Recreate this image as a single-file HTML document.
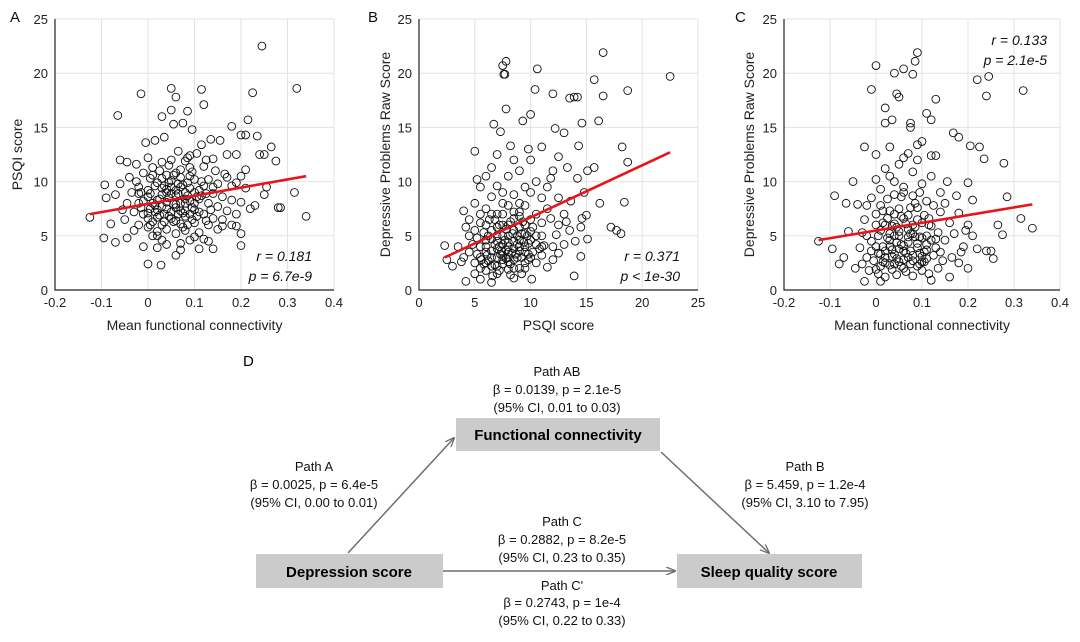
<!DOCTYPE html>
<html><head><meta charset="utf-8">
<style>
html,body{margin:0;padding:0;background:#fff;}
body{width:1080px;height:637px;overflow:hidden;font-family:"Liberation Sans",Arial,sans-serif;}
svg text{font-family:"Liberation Sans",Arial,sans-serif;}
</style></head>
<body>
<svg id="fig" width="1080" height="637" viewBox="0 0 1080 637">
<g id="charts"></g>
<g id="diagram">
  <text x="243" y="366" font-size="15">D</text>
  <g font-size="13" text-anchor="middle" fill="#111">
    <text x="557" y="376">Path AB</text>
    <text x="557" y="394">β = 0.0139, p = 2.1e-5</text>
    <text x="557" y="412">(95% CI, 0.01 to 0.03)</text>
    <text x="314" y="471">Path A</text>
    <text x="314" y="489">β = 0.0025, p = 6.4e-5</text>
    <text x="314" y="507">(95% CI, 0.00 to 0.01)</text>
    <text x="805" y="471">Path B</text>
    <text x="805" y="489">β = 5.459, p = 1.2e-4</text>
    <text x="805" y="507">(95% CI, 3.10 to 7.95)</text>
    <text x="562" y="526">Path C</text>
    <text x="562" y="544">β = 0.2882, p = 8.2e-5</text>
    <text x="562" y="562">(95% CI, 0.23 to 0.35)</text>
    <text x="562" y="590">Path C'</text>
    <text x="562" y="607">β = 0.2743, p = 1e-4</text>
    <text x="562" y="625">(95% CI, 0.22 to 0.33)</text>
  </g>
  <defs><marker id="ah" markerWidth="10" markerHeight="8" refX="9" refY="4" orient="auto" markerUnits="userSpaceOnUse"><path d="M0,0 L10,4 L0,8" fill="none" stroke="#6e6e6e" stroke-width="1.3"/></marker></defs>
  <line x1="348" y1="553" x2="454" y2="438" stroke="#6e6e6e" stroke-width="1.5" marker-end="url(#ah)"/>
  <line x1="661" y1="452" x2="769" y2="553" stroke="#6e6e6e" stroke-width="1.5" marker-end="url(#ah)"/>
  <line x1="443" y1="571" x2="675" y2="571" stroke="#6e6e6e" stroke-width="1.5" marker-end="url(#ah)"/>
  <rect x="456" y="418" width="204" height="33" fill="#cbcbcb"/>
  <text x="558" y="440" font-size="15" font-weight="bold" text-anchor="middle">Functional connectivity</text>
  <rect x="256" y="554" width="187" height="34" fill="#cbcbcb"/>
  <text x="349" y="577" font-size="15" font-weight="bold" text-anchor="middle">Depression score</text>
  <rect x="677" y="554" width="185" height="34" fill="#cbcbcb"/>
  <text x="769" y="577" font-size="15" font-weight="bold" text-anchor="middle">Sleep quality score</text>
</g>
</svg>
<script>
// Panel A data: mean functional connectivity vs PSQI score
const ptsA = "-0.125,6.7 -0.095,4.8 -0.093,9.7 -0.09,8.5 -0.065,16.1 -0.015,18.1 0.05,18.6 0.115,18.5 0.12,17.1 0.06,17.8 0.245,22.5 0.225,18.2 0.32,18.6 0.34,6.8 0.315,9.0 0.28,7.6 0.285,7.6 0.275,11.9 0.265,13.2 0.25,12.5 0.24,12.5 0.235,14.2 0.215,15.7 0.2,14.3 0.21,14.3 0.18,15.1 0.2,4.1 0.14,3.8 0.11,3.8 0,2.4 0.028,2.3 0.06,3.2 -0.07,4.4 -0.045,4.8 -0.08,6.1 -0.06,12.0 -0.045,11.8 0.085,16.5 0.05,16.6 0.03,16.0 0.255,9.5 0.25,8.8 0.22,7.5 0.23,7.8 0.18,6.0 0.19,5.9 0.2,5.2 0.16,6.5 0.17,12.5 0.19,12.5 -0.02,9.5 -0.01,8.2 0,7.1 0.01,6.3 0.02,9.9 0.03,8.8 0.04,7.5 0.05,6.6 0.06,9.2 0.07,8.0 0.08,7.3 0.09,10.5 0.1,9.0 0.11,8.4 0.12,7.0 0.13,10.2 0.14,8.9 0.15,7.7 -0.03,7.2 -0.02,6.0 -0.01,10.8 0,12.2 0.01,11.3 0.02,5.4 0.03,4.6 0.04,10.6 0.05,12.0 0.06,5.2 0.07,4.3 0.08,11.9 0.09,12.4 0.1,6.2 0.11,5.3 0.12,11.4 0.13,6.0 0.14,12.1 0.15,9.8 0.16,8.6 0.17,10.4 0.18,8.3 0.19,9.9 0.2,8.1 0.21,9.4 0.005,8.9 0.015,7.8 0.025,6.9 0.035,9.6 0.045,8.5 0.055,7.9 0.065,7.0 0.075,9.7 0.085,8.7 0.095,7.6 0.105,6.8 0.115,10.0 0.125,8.9 0.135,7.4 -0.005,13.6 0.015,13.8 0.035,14.1 0.055,15.3 0.075,15.4 0.095,14.8 0.115,13.4 0.135,13.9 0.155,13.8 -0.025,11.6 -0.035,9.0 -0.045,8.0 -0.05,6.5 -0.03,5.5 -0.01,4.0 0.02,3.9 0.04,4.2 0.07,3.7 0.09,4.6 0.12,4.7 0.13,4.5 0.15,5.6 0.17,7.3 0.19,7.0 0.2,10.5 0.21,11.1 0.005,10.3 0.025,11.0 0.045,11.5 0.065,12.8 0.085,12.2 0.105,12.6 0.125,12.0 0.145,11.0 0.165,10.7 0.06,7.6 0.07,6.1 0.03,6.0 0.01,5.0 0.08,5.5 0.1,4.9 -0.015,7.6 0.05,10.1 0.09,9.4 0.11,7.2 0.14,6.6 0.16,5.9 0.18,9.6 -0.07,8.8 -0.06,9.8 -0.04,10.4 -0.055,7.4 0.0,8.6 0.04,9.0 0.08,8.4 0.1,10.2 0.02,7.4 0.06,10.8 0.12,9.6 -0.02,8.9 0.03,10.3 0.07,11.1 0.0,9.2 0.01,8.0 0.02,6.7 0.03,9.4 0.04,8.1 0.05,7.2 0.06,8.7 0.07,9.5 0.08,6.8 0.09,8.2 0.1,7.4 0.005,6.0 0.015,9.6 0.025,8.4 0.035,7.0 0.045,9.9 0.055,6.3 0.065,8.9 0.075,7.1 0.085,9.9 0.095,6.5 0.0,5.8 0.02,5.0 0.04,5.6 0.06,6.4 0.08,9.0 0.1,8.0 -0.01,7.0 -0.02,8.0 0.03,7.7 0.05,8.9 0.07,7.3 0.09,7.0 0.11,9.2 0.01,10.6 0.03,11.8 0.05,9.5 0.07,10.4 0.09,11.3 0.015,7.2 0.035,6.3 0.055,10.6 0.075,5.8 0.095,10.9 0.115,8.7 0.125,6.4 -0.025,10.0 -0.015,9.0 0.005,7.5 0.045,6.8 0.065,9.8 0.085,6.0 0.105,8.6 0.13,8.0 0.14,9.5 0.02,8.3 0.06,7.9 0.04,9.3 0.08,8.0 0.0,6.6";
const fitA = [[-0.125, 7.0], [0.34, 10.5]];
// Panel B data: PSQI vs depressive problems
const ptsB = "2.3,4.1 2.5,2.8 3,2.2 4.2,0.8 5,12.8 7.5,20.7 7.6,19.9 7.7,19.9 7.8,21.1 7.8,16.7 10.6,20.4 10.4,18.5 12,18.1 13.5,17.7 13.9,17.8 14.2,17.8 15.7,19.4 16.5,21.9 16.5,17.9 18.7,18.4 22.5,19.7 16.1,15.6 14.6,15.4 18.2,13.2 18.7,11.8 18.4,8.1 17.7,5.5 18.1,5.2 17.2,5.8 16.2,8.0 15.7,11.3 15.1,11.0 14.3,13.3 13,14.5 12.2,14.9 10,16.2 9.3,15.6 6.7,15.3 7.3,14.6 13.9,1.3 14.5,3.1 15.1,4.7 15,6.9 14.6,6.6 10.1,1.0 8.5,1.1 6.5,0.7 5.5,1.0 13.3,11.3 12.5,12.3 11.8,10.3 14.8,9.0 14.2,10.3 4,3 4.5,5 5,2.5 5.5,4 6,6 6.5,3 7,5 7.5,7 8,3.5 8.5,5.5 9,8 9.5,4 10,6.5 10.5,2.5 11,5 11.5,7.5 12,4 12.5,6 4.5,6.5 5,8 5.5,9.5 6,10.5 6.5,11.3 7,12.5 7.5,9 8,10.5 8.5,12 9,11 9.5,9.5 10,12 10.5,10 11,8.5 11.5,9.5 12,11 12.5,8.5 13,7 13.5,5.5 14,4.5 5,1.5 5.5,2 6,1.8 6.5,2.2 7,1.5 7.5,2.4 8,1.9 8.5,2.8 9,2 9.5,2.5 10,3 10.5,4.2 11,3.2 11.5,2.1 12,2.8 12.5,3.4 13,4.2 6,3.5 6.5,4.7 7,3 7.5,4.2 8,5 8.5,3.8 9,4.6 9.5,6 10,4.6 10.5,7 11,6.2 6,7.5 6.5,8.6 7,9.6 7.5,6 8,7.8 8.5,8.8 9,6.8 9.5,7.8 10,9 3.5,4 3.8,2.6 4.2,5.8 4.8,4.2 5.2,3.3 5.8,5.3 6.2,2.7 6.8,6.5 7.2,4 7.8,2.9 8.2,6.3 8.8,3 9.2,5.2 9.8,3.3 10.2,5.8 10.8,3.8 11.2,4.1 11.8,6.6 12.3,5.1 13.2,6.3 13.6,8.2 14.5,5.8 4,7.3 5.2,10.2 8.2,13.3 9.8,13 11,13.2 7,7 8,4.4 9,3.6 6,4.6 7.5,3.2 8.5,6.6 5.5,6.2 9.5,5.2 7,2.2 8,2.6 5.5,3 6,4 6.5,5.5 7,3.8 7.5,5 8,3 8.5,4.5 9,5.8 9.5,3.5 10,5.4 6,2.5 6.5,3.6 7,4.5 7.5,2.8 8,4 8.5,2 9,4 9.5,2 6.2,5 6.8,2.3 7.2,6 7.8,3.7 8.2,2.4 8.8,5 9.2,3 9.8,4.3 5.2,4.8 5.8,2.4 6.3,6.5 6.8,4.2 7.3,3.3 7.8,5.6 8.3,3.4 8.8,4.2 9.3,6.3 9.8,2.8 7,5.8 8,6 9,7.2 7.5,8 8.5,7.2 6.5,7 5,5.5 5.5,7 4.5,3.5 10.5,5 11,4 10.2,3.5 7.2,1.8 8.2,1.4 9.2,1.5 6.6,1.3 5.6,2.8 7.7,4.6 8.7,3.3 9.7,5 6.1,3.2 7.4,3.6 8.4,5.2 9.4,4.4";
const fitB = [[2.3, 3.0], [22.5, 12.7]];
// Panel C data: mean functional connectivity vs depressive problems
const ptsC = "-0.125,4.5 -0.09,8.7 -0.095,3.8 -0.01,18.5 0,20.7 0.04,20.0 0.06,20.4 0.085,21.1 0.09,21.9 0.08,19.9 0.045,18.1 0.05,17.8 0.13,17.6 0.22,19.4 0.245,19.7 0.24,17.9 0.32,18.4 0.34,5.7 0.315,6.6 0.278,11.7 0.285,8.6 0.275,5.1 0.255,2.9 0.25,3.6 0.24,3.6 0.265,6.0 0.225,13.2 0.205,13.3 0.235,12.1 0.18,14.1 0.168,14.5 0.11,16.3 0.12,15.7 0.02,16.8 0.02,15.4 0.035,15.7 0.075,15.4 0.075,15.0 0.1,13.7 -0.025,13.2 -0.065,8.0 -0.05,10.0 -0.045,2.0 -0.025,0.8 0.01,0.8 0.12,0.9 0.16,1.2 0.2,2.0 0.18,2.5 0.22,3.8 0.2,9.9 0.21,8.3 -0.02,3.0 -0.01,4.5 0,6.0 0.01,2.2 0.02,3.6 0.03,5.2 0.04,7.0 0.05,2.6 0.06,4.1 0.07,5.6 0.08,3.2 0.09,6.5 0.1,4.8 0.11,2.9 0.12,5.9 0.13,3.9 0.14,7.2 0.15,4.6 -0.03,5.3 -0.02,7.8 -0.01,8.5 0,10.2 0.01,9.3 0.02,11.2 0.03,10.5 0.04,8.8 0.05,11.6 0.06,9.5 0.07,12.6 0.08,10.9 0.09,12.0 0.1,9.8 0.11,8.2 0.12,10.5 0.13,12.4 0.14,9.0 0.15,8.0 0.16,6.2 0.17,5.2 0.18,7.1 0.19,4.0 0.2,6.0 0.005,1.5 0.015,4.0 0.025,6.6 0.035,1.9 0.045,4.4 0.055,6.8 0.065,1.7 0.075,3.6 0.085,8.0 0.095,2.4 0.105,6.9 0.115,1.5 0.125,3.2 0.135,5.3 0.145,2.7 -0.005,2.7 -0.015,1.8 -0.025,6.5 -0.035,3.9 -0.04,7.9 -0.06,5.4 -0.07,3.0 -0.08,2.4 0.005,5.0 0.015,7.3 0.025,8.4 0.035,3.1 0.045,5.8 0.055,8.6 0.065,3.4 0.075,7.6 0.085,4.9 0.095,9.0 0.105,3.5 0.115,6.0 0.125,7.8 0.135,2.0 0.155,10.0 0.165,3.0 0.175,8.7 0.185,3.5 0.195,5.5 0.21,5.0 0.06,2.0 0.04,2.4 0.02,1.2 0.08,1.3 0.1,1.8 0.03,13.2 0.09,13.4 0.0,12.5 0.06,12.2 0.12,12.4 0.03,4.0 0.05,5.0 0.07,4.4 0.01,3.3 0.09,3.9 0.11,4.2 0.04,6.1 0.08,6.0 0.0,4 0.01,5.5 0.02,3 0.03,4.6 0.04,3.3 0.05,5.4 0.06,3.6 0.07,4.9 0.08,2.7 0.09,4.3 0.1,3.1 0.11,5 0.005,3.4 0.015,2.6 0.025,4.8 0.035,5.9 0.045,2.9 0.055,4.2 0.065,6.1 0.075,2.4 0.085,5.8 0.095,4.9 0.105,2.6 0.0,7 0.02,6 0.04,5 0.06,6.6 0.08,5.2 0.1,6.2 0.12,4.6 -0.01,3.6 -0.02,5 0.03,2.3 0.05,3.8 0.07,3 0.09,2.2 0.11,3.7 0.13,4.7 0.01,7.8 0.03,7.3 0.05,7.5 0.07,6.9 0.09,7.6 0.06,9.0 0.04,10 0.08,8.7 0.02,2.5 0.06,2.8 0.1,2.6 0.14,3.5 -0.03,2.4 0.0,1.9 0.045,1.4 0.015,6.2 0.035,3.7 0.055,2.2 0.075,5.2 0.095,3.4 0.115,6.6";
const fitC = [[-0.125, 4.6], [0.34, 7.9]];
const xTicksFC = [-0.2, -0.1, 0, 0.1, 0.2, 0.3, 0.4];
const xTicksPSQI = [0, 5, 10, 15, 20, 25];
const yTicks = [0, 5, 10, 15, 20, 25];

const NS = "http://www.w3.org/2000/svg";
const root = document.getElementById('charts');
function mk(tag, attrs, parent, text) {
  const e = document.createElementNS(NS, tag);
  for (const k in attrs) e.setAttribute(k, attrs[k]);
  if (text !== undefined) e.textContent = text;
  parent.appendChild(e);
  return e;
}
function parse(s) { return s.trim().split(/\s+/).map(p => p.split(',').map(Number)); }

function drawPanel(cfg) {
  const g = mk('g', {}, root);
  
  
  const L = cfg.left, R = cfg.right, T = 19, B = 290;
  const xmin = cfg.xTicks[0], xmax = cfg.xTicks[cfg.xTicks.length - 1];
  const xs = v => L + (v - xmin) / (xmax - xmin) * (R - L);
  const ys = v => B - v / 25 * (B - T);
  cfg.xTicks.forEach(t => {
    const ln = mk('line', {x1: xs(t), x2: xs(t), y1: T, y2: B, stroke: '#e3e3e3', 'stroke-width': 1}, g);
    
    
    const tx = mk('text', {x: xs(t), y: B + 17, 'font-size': 13, 'text-anchor': 'middle', fill: '#222'}, g, String(t));
    
    
  });
  yTicks.forEach(t => {
    const ln = mk('line', {x1: L, x2: R, y1: ys(t), y2: ys(t), stroke: '#e3e3e3', 'stroke-width': 1}, g);
    
    
    const tx = mk('text', {x: L - 7, y: ys(t) + 5, 'font-size': 13, 'text-anchor': 'end', fill: '#222'}, g, String(t));
    
    
  });
  parse(cfg.pts).forEach(p => {
    const c = mk('circle', {cx: xs(p[0]), cy: ys(p[1]), r: 3.9, fill: 'none', stroke: '#111', 'stroke-width': 0.9}, g);
    
    
  });
  const fl = mk('line', {x1: xs(cfg.fit[0][0]), y1: ys(cfg.fit[0][1]), x2: xs(cfg.fit[1][0]), y2: ys(cfg.fit[1][1]), stroke: '#e8141b', 'stroke-width': 2.6}, g);
  
  
  const ax = mk('path', {d: `M${L},${T} L${L},${B} L${R},${B}`, fill: 'none', stroke: '#222', 'stroke-width': 1.2}, g);
  
  
  const xl = mk('text', {x: (L + R) / 2, y: 330, 'font-size': 14, 'text-anchor': 'middle', fill: '#222'}, g, cfg.xLabel);
  
  
  const yl = mk('text', {x: 0, y: 0, 'font-size': 14, 'text-anchor': 'middle', fill: '#222', transform: `translate(${cfg.yLabelX},${(T + B) / 2}) rotate(-90)`}, g, cfg.yLabel);
  
  
  const pl = mk('text', {x: cfg.letterX, y: 22, 'font-size': 15, fill: '#111'}, g, cfg.letter);
  
  
  cfg.stats.forEach((s, i) => {
    const st = mk('text', {x: cfg.statX, y: cfg.statY + i * 20, 'font-size': 14, 'font-style': 'italic', 'text-anchor': 'end', fill: '#111'}, g, s);
    
    
  });
}

drawPanel({name: 'scatter-panel-a', left: 55, right: 334, xTicks: xTicksFC, pts: ptsA, fit: fitA,
  xLabel: 'Mean functional connectivity', yLabel: 'PSQI score', yLabelX: 22, letter: 'A', letterX: 10,
  stats: ['r = 0.181', 'p = 6.7e-9'], statX: 312, statY: 261});
drawPanel({name: 'scatter-panel-b', left: 419, right: 698, xTicks: xTicksPSQI, pts: ptsB, fit: fitB,
  xLabel: 'PSQI score', yLabel: 'Depressive Problems Raw Score', yLabelX: 390, letter: 'B', letterX: 368,
  stats: ['r = 0.371', 'p < 1e-30'], statX: 680, statY: 261});
drawPanel({name: 'scatter-panel-c', left: 784, right: 1060, xTicks: xTicksFC, pts: ptsC, fit: fitC,
  xLabel: 'Mean functional connectivity', yLabel: 'Depressive Problems Raw Score', yLabelX: 754, letter: 'C', letterX: 735,
  stats: ['r = 0.133', 'p = 2.1e-5'], statX: 1047, statY: 45});
</script>
</body></html>
